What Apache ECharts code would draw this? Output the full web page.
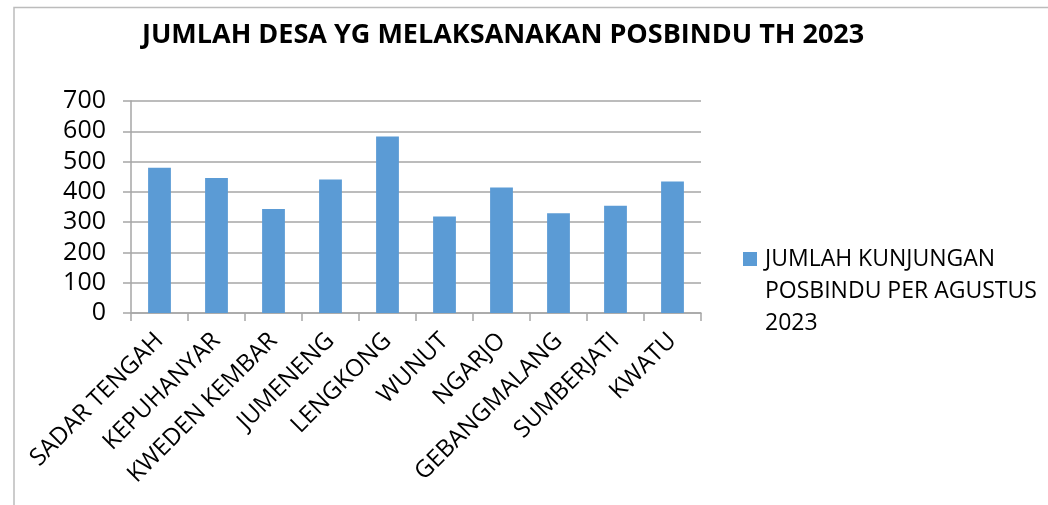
<!DOCTYPE html>
<html>
<head>
<meta charset="utf-8">
<script src="https://cdn.jsdelivr.net/npm/echarts@6/dist/echarts.min.js"></script>
<style>
  html, body { margin: 0; padding: 0; background: #fff; }
  #main { width: 1048px; height: 505px; }
</style>
</head>
<body>
<div id="main"></div>
<script>
// data
var desa = ['SADAR TENGAH', 'KEPUHANYAR', 'KWEDEN KEMBAR', 'JUMENENG', 'LENGKONG',
            'WUNUT', 'NGARJO', 'GEBANGMALANG', 'SUMBERJATI', 'KWATU'];
var kunjungan = [480, 446, 343, 441, 583, 319, 414, 329, 354, 434];
var yTicks = [0, 100, 200, 300, 400, 500, 600, 700];
var seriesName = 'JUMLAH KUNJUNGAN POSBINDU PER AGUSTUS 2023';

var myChart = echarts.init(document.getElementById('main'));
var font = 'Open Sans';

var option = {
    backgroundColor: '#fff',
    animation: false,
    title: {
        text: 'JUMLAH DESA YG MELAKSANAKAN POSBINDU TH 2023',
        left: 137,
        top: 17,
        textStyle: { fontFamily: font, fontWeight: 'bold', fontSize: 27, color: '#000' }
    },
    // frame around the chart
    graphic: [{
        type: 'polyline',
        shape: { points: [[14, 505], [14, 7.5], [1048, 7.5]] },
        style: { stroke: '#bcbcbc', lineWidth: 1.5, fill: null },
        silent: true
    }],
    legend: {
        left: 743,
        top: 179,
        padding: 0,
        itemWidth: 14,
        itemHeight: 14,
        itemGap: 8,
        icon: 'rect',
        // two empty lines on top so the square sits beside the first line
        formatter: function () {
            return '\n\nJUMLAH KUNJUNGAN\nPOSBINDU PER AGUSTUS\n2023';
        },
        textStyle: { fontFamily: font, fontSize: 23, color: '#000', lineHeight: 32, padding: [0, 0, 0, 3] }
    },
    grid: { left: 131, right: 347, top: 101, bottom: 192, containLabel: false },
    xAxis: {
        type: 'category',
        data: desa,
        axisLine: { lineStyle: { color: '#a6a6a6', width: 1.5 } },
        axisTick: { show: true, alignWithLabel: false, length: 8, lineStyle: { color: '#a6a6a6', width: 1.5 } },
        axisLabel: {
            interval: 0, rotate: 45, margin: 24,
            fontFamily: font, fontSize: 24, color: '#000'
        }
    },
    yAxis: {
        type: 'value',
        min: yTicks[0],
        max: yTicks[yTicks.length - 1],
        interval: 100,
        axisLine: { show: true, lineStyle: { color: '#a6a6a6', width: 1.5 } },
        axisTick: { show: true, length: 8, lineStyle: { color: '#a6a6a6', width: 1.5 } },
        splitLine: { lineStyle: { color: '#a6a6a6', width: 1.5 } },
        axisLabel: { margin: 25, fontFamily: font, fontSize: 25, color: '#000' }
    },
    series: [{
        name: seriesName,
        type: 'bar',
        data: kunjungan,
        barWidth: '40%',
        itemStyle: { color: '#5b9bd5' }
    }]
};
myChart.setOption(option);
</script>
</body>
</html>
